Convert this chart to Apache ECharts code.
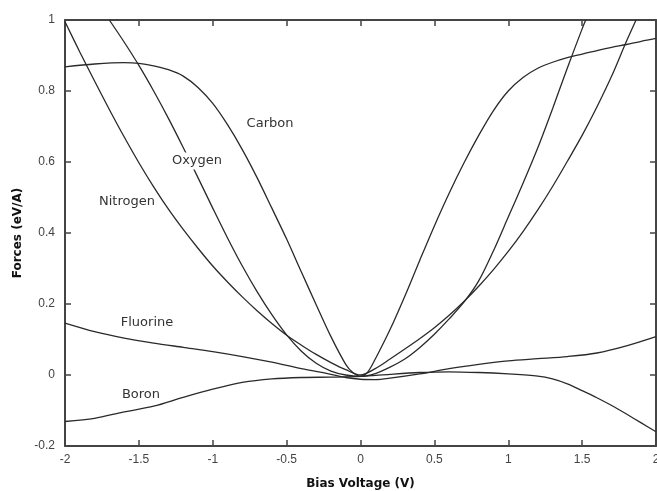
<!DOCTYPE html>
<html>
<head>
<meta charset="utf-8">
<script src="https://cdn.jsdelivr.net/npm/echarts@6/dist/echarts.min.js"></script>
<style>
  html, body { margin: 0; padding: 0; background: #fff; }
  #chart { width: 657px; height: 491px; }
</style>
</head>
<body>
<div id="chart"></div>
<script>
// Force on each adatom versus bias voltage, [V, eV/A]
const carbon = [
  [-2.0, 0.868], [-1.8, 0.876], [-1.6, 0.880], [-1.5, 0.878], [-1.4, 0.871],
  [-1.3, 0.860], [-1.2, 0.842], [-1.1, 0.810], [-1.0, 0.765], [-0.9, 0.705],
  [-0.8, 0.635], [-0.7, 0.556], [-0.6, 0.470], [-0.5, 0.383], [-0.4, 0.290],
  [-0.3, 0.198], [-0.2, 0.108], [-0.1, 0.030], [-0.05, 0.006], [0.0, -0.004],
  [0.05, 0.009], [0.1, 0.045], [0.2, 0.128], [0.3, 0.222], [0.4, 0.322],
  [0.5, 0.420], [0.6, 0.512], [0.7, 0.597], [0.8, 0.675], [0.9, 0.745],
  [1.0, 0.800], [1.1, 0.838], [1.2, 0.864], [1.3, 0.881], [1.4, 0.894],
  [1.5, 0.904], [1.6, 0.914], [1.7, 0.923], [1.8, 0.931], [1.9, 0.940],
  [2.0, 0.948]
];

const oxygen = [
  [-1.70, 1.0], [-1.6, 0.938], [-1.5, 0.872], [-1.4, 0.800], [-1.3, 0.723],
  [-1.2, 0.641], [-1.1, 0.556], [-1.0, 0.470], [-0.9, 0.386], [-0.8, 0.307],
  [-0.7, 0.235], [-0.6, 0.170], [-0.5, 0.113], [-0.4, 0.067], [-0.3, 0.033],
  [-0.2, 0.011], [-0.1, 0.000], [0.0, -0.004], [0.1, 0.004], [0.2, 0.022],
  [0.3, 0.045], [0.4, 0.077], [0.5, 0.115], [0.6, 0.158], [0.7, 0.205],
  [0.8, 0.265], [0.9, 0.350], [1.0, 0.445], [1.1, 0.540], [1.2, 0.640],
  [1.3, 0.750], [1.4, 0.865], [1.5, 0.975], [1.524, 1.0]
];

const nitrogen = [
  [-2.0, 0.995], [-1.9, 0.910], [-1.8, 0.828], [-1.7, 0.748], [-1.6, 0.671],
  [-1.5, 0.598], [-1.4, 0.530], [-1.3, 0.467], [-1.2, 0.410], [-1.1, 0.357],
  [-1.0, 0.307], [-0.9, 0.262], [-0.8, 0.220], [-0.7, 0.181], [-0.6, 0.145],
  [-0.5, 0.112], [-0.4, 0.084], [-0.3, 0.058], [-0.2, 0.035], [-0.1, 0.015],
  [0.0, 0.000], [0.1, 0.018], [0.2, 0.045], [0.3, 0.073], [0.4, 0.102],
  [0.5, 0.133], [0.6, 0.168], [0.7, 0.207], [0.8, 0.250], [0.9, 0.297],
  [1.0, 0.348], [1.1, 0.404], [1.2, 0.465], [1.3, 0.531], [1.4, 0.602],
  [1.5, 0.675], [1.6, 0.755], [1.7, 0.842], [1.8, 0.940], [1.865, 1.0]
];

const fluorine = [
  [-2.0, 0.146], [-1.8, 0.122], [-1.6, 0.104], [-1.4, 0.090], [-1.2, 0.078],
  [-1.0, 0.066], [-0.8, 0.052], [-0.6, 0.036], [-0.4, 0.018], [-0.2, 0.002],
  [-0.1, -0.007], [0.0, -0.012], [0.1, -0.013], [0.2, -0.009], [0.4, 0.003],
  [0.6, 0.018], [0.8, 0.030], [1.0, 0.040], [1.2, 0.046], [1.4, 0.052],
  [1.6, 0.062], [1.8, 0.082], [2.0, 0.108]
];

const boron = [
  [-2.0, -0.131], [-1.8, -0.122], [-1.6, -0.104], [-1.4, -0.088], [-1.2, -0.063],
  [-1.0, -0.040], [-0.8, -0.021], [-0.6, -0.011], [-0.4, -0.007], [-0.2, -0.006],
  [0.0, -0.004], [0.2, 0.002], [0.4, 0.007], [0.6, 0.009], [0.8, 0.007],
  [1.0, 0.003], [1.2, -0.003], [1.3, -0.011], [1.4, -0.025], [1.5, -0.044],
  [1.6, -0.064], [1.7, -0.086], [1.8, -0.110], [1.9, -0.135], [2.0, -0.160]
];

const seriesNames = ['Carbon', 'Oxygen', 'Nitrogen', 'Fluorine', 'Boron'];
const seriesData = [carbon, oxygen, nitrogen, fluorine, boron];

const xTicks = { min: -2, max: 2, interval: 0.5 };
const yTicks = { min: -0.2, max: 1, interval: 0.2 };

const LINE = '#2a2a2a';
const AXIS = '#444';
const TICK_FONT = '"Liberation Sans", Arial, sans-serif';
const LABEL_FONT = '"DejaVu Sans", Verdana, sans-serif';

function fmt(v) {
  return String(Math.round(v * 10) / 10);
}

function axisCommon(showLabels) {
  return {
    type: 'value',
    axisLine: { show: true, onZero: false, lineStyle: { color: AXIS, width: 2 } },
    axisTick: { show: true, inside: true, length: 6, lineStyle: { color: AXIS, width: 1.5 } },
    splitLine: { show: false },
    axisLabel: showLabels
      ? { show: true, color: '#444', fontFamily: TICK_FONT, fontSize: 12, formatter: fmt }
      : { show: false }
  };
}

const chart = echarts.init(document.getElementById('chart'), null, { renderer: 'canvas' });

// Curve names placed next to their lines; only Oxygen sits on top of its line
const curveLabels = [
  { text: 'Carbon', x: 270, y: 124, box: false },
  { text: 'Oxygen', x: 197, y: 161, box: true },
  { text: 'Nitrogen', x: 127, y: 202, box: false },
  { text: 'Fluorine', x: 147, y: 323, box: false },
  { text: 'Boron', x: 141, y: 395, box: false }
];

chart.setOption({
  animation: false,
  backgroundColor: '#fff',
  grid: { left: 65, right: 1, top: 20, bottom: 45, outerBoundsMode: 'none', containLabel: false },
  xAxis: [
    Object.assign(axisCommon(true), {
      position: 'bottom', min: xTicks.min, max: xTicks.max, interval: xTicks.interval,
      axisLabel: { show: true, color: '#444', fontFamily: TICK_FONT, fontSize: 12, margin: 8, formatter: fmt },
      name: 'Bias Voltage (V)', nameLocation: 'middle', nameGap: 32,
      nameTextStyle: { fontFamily: LABEL_FONT, fontWeight: 'bold', fontSize: 12, color: '#111' }
    }),
    Object.assign(axisCommon(false), {
      position: 'top', min: xTicks.min, max: xTicks.max, interval: xTicks.interval
    })
  ],
  yAxis: [
    Object.assign(axisCommon(true), {
      position: 'left', min: yTicks.min, max: yTicks.max, interval: yTicks.interval,
      axisLabel: { show: true, color: '#444', fontFamily: TICK_FONT, fontSize: 12, margin: 10, formatter: fmt },
      name: 'Forces (eV/A)', nameLocation: 'middle', nameGap: 40, nameRotate: 90,
      nameTextStyle: { fontFamily: LABEL_FONT, fontWeight: 'bold', fontSize: 12, color: '#111' }
    }),
    Object.assign(axisCommon(false), {
      position: 'right', min: yTicks.min, max: yTicks.max, interval: yTicks.interval
    })
  ],
  series: seriesData.map((d, i) => ({
    name: seriesNames[i],
    type: 'line',
    xAxisIndex: 0,
    yAxisIndex: 0,
    data: d,
    showSymbol: false,
    smooth: 0.3,
    clip: true,
    lineStyle: { color: LINE, width: 1.3 },
    z: 2
  })),
  graphic: curveLabels.map(l => ({
    type: 'text',
    x: l.x,
    y: l.y,
    z: 100,
    style: Object.assign({
      text: l.text,
      fill: '#333',
      font: '13px ' + LABEL_FONT,
      align: 'center',
      verticalAlign: 'middle'
    }, l.box ? { backgroundColor: '#fff', padding: [2, 2] } : {})
  }))
});
</script>
</body>
</html>
